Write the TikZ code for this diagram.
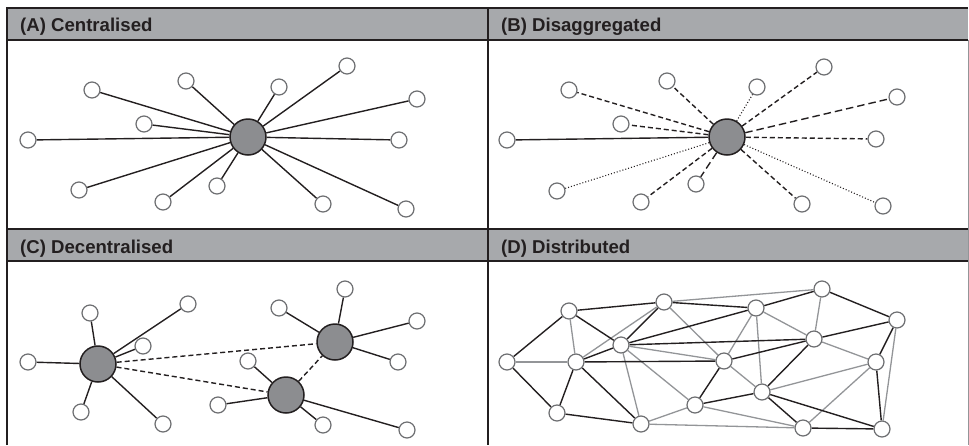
\documentclass[tikz,border=0pt]{standalone}
\usepackage{fontspec}
\setmainfont{Liberation Sans}
\usetikzlibrary{backgrounds}

\definecolor{headFill}{HTML}{A7A9AC}
\definecolor{inkDark}{HTML}{231F20}
\definecolor{hubFill}{HTML}{8C8D90}
\definecolor{ringGray}{HTML}{6D6E71}
\definecolor{linkGray}{HTML}{939598}

\tikzset{
  frame/.style={draw=inkDark,line width=1.4},
  headtext/.style={anchor=base west,inner sep=0pt,text=inkDark,
    font=\fontsize{18.6}{21}\selectfont\bfseries},
  leaf/.style={circle,draw=ringGray,fill=white,line width=1.2,
    minimum size=16,inner sep=0pt},
  hub/.style={circle,draw=inkDark,fill=hubFill,line width=1.5,
    minimum size=36,inner sep=0pt},
  link/.style={draw=inkDark,line width=1.4},
  dashlink/.style={link,dash pattern=on 5 off 3},
  longlink/.style={link,dash pattern=on 7.5 off 4},
  dotlink/.style={draw=inkDark,line width=1.1,dash pattern=on 1 off 2},
  greylink/.style={draw=linkGray,line width=1.3},
}

\begin{document}
\begin{tikzpicture}[x=1pt,y=-1pt]
\useasboundingbox (0,0) rectangle (969,445);

% frame and header bands
\fill[headFill] (7,8) rectangle (968,40);
\fill[headFill] (7,229) rectangle (968,261);
\draw[frame] (7,445) -- (7,8) -- (968,8);
\draw[frame] (7,40) -- (968,40);
\draw[frame] (7,229) -- (968,229);
\draw[frame] (7,261) -- (968,261);
\draw[frame] (488,8) -- (488,445);
\draw[draw=linkGray,line width=0.6] (968,40) -- (968,445);

\foreach \v/\x/\y/\t in
{   tA/20/31.5/{(A) Centralised},
    tB/501/31.5/{(B) Disaggregated},
    tC/20/253/{(C) Decentralised},
    tD/501/253/{(D) Distributed}}
{
    \node[headtext] (\v) at (\x,\y) {\t};
};

% (A) one hub
\node[hub] (aHub) at (248,137) {};
\foreach \n/\x/\y in
{   1/28/140, 2/92/90, 3/144/124, 4/186/81, 5/279/87, 6/347/66, 7/417/99,
    8/399/140, 9/406/209, 10/323/204, 11/217/186, 12/163/202, 13/79/190}
{
    \node[leaf] (a\n) at (\x,\y) {};
};
\begin{pgfonlayer}{background}
\foreach \n in {1,...,13}
{
    \draw[link] (aHub) -- (a\n);
};
\end{pgfonlayer}

% (B) one hub, mixed links
\node[hub] (bHub) at (727,137) {};
\foreach \n/\x/\y/\s in
{   1/507/140/link,     2/569/90/dashlink,   3/621/124/dashlink,
    4/667/81/dashlink,  5/757/87/dotlink,    6/824/67/dashlink,
    7/897/97/longlink,  8/876/139/dashlink,  9/883/206/dotlink,
    10/802/204/dashlink, 11/696/184/longlink, 12/641/202/dashlink,
    13/557/191/dotlink}
{
    \node[leaf] (b\n) at (\x,\y) {};
    \begin{pgfonlayer}{background}
    \draw[\s] (bHub) -- (b\n);
    \end{pgfonlayer}
};

% (C) three hubs
\node[hub] (cHub1) at (98,364) {};
\node[hub] (cHub2) at (335,342) {};
\node[hub] (cHub3) at (286,395) {};
\foreach \n/\x/\y/\h in
{   1/28/362/1,   2/90/313/1,   3/188/304/1,  4/143/346/1,  5/81/412/1,
    6/163/424/1,  7/279/308/2,  8/345/289/2,  9/417/321/2,  10/398/362/2,
    11/248/361/3, 12/218/405/3, 13/323/425/3, 14/407/430/3}
{
    \node[leaf] (c\n) at (\x,\y) {};
    \begin{pgfonlayer}{background}
    \draw[link] (cHub\h) -- (c\n);
    \end{pgfonlayer}
};
\draw[dashlink] (cHub1) -- (cHub2);
\draw[dashlink] (cHub1) -- (cHub3);
\draw[dashlink] (cHub3) -- (cHub2);

% (D) mesh
\foreach \n/\x/\y in
{   1/507/362,  2/569/311,  3/576/362,  4/621/345,  5/664/302,  6/557/413,
    7/641/424,  8/695/405,  9/724/361,  10/756/308, 11/762/392, 12/822/289,
    13/814/339, 14/803/428, 15/876/362, 16/897/320, 17/882/429}
{
    \node[leaf] (d\n) at (\x,\y) {};
};
\begin{pgfonlayer}{background}
\foreach \u/\v in
{   1/3, 2/3, 3/5, 4/9, 4/7, 4/8, 5/9, 5/12, 7/8, 7/14,
    8/14, 9/10, 9/11, 10/13, 10/11, 12/13, 13/15, 16/17, 15/11, 15/14}
{
    \draw[greylink] (d\u) -- (d\v);
};
\foreach \u/\v in
{   1/2, 1/6, 2/5, 2/4, 3/4, 3/9, 3/6, 3/7, 4/5, 4/10, 4/13, 5/10, 6/7,
    8/9, 8/11, 9/13, 10/12, 12/16, 13/16, 13/11, 16/15, 15/17, 11/14,
    11/17, 14/17}
{
    \draw[link] (d\u) -- (d\v);
};
\end{pgfonlayer}

\end{tikzpicture}
\end{document}
